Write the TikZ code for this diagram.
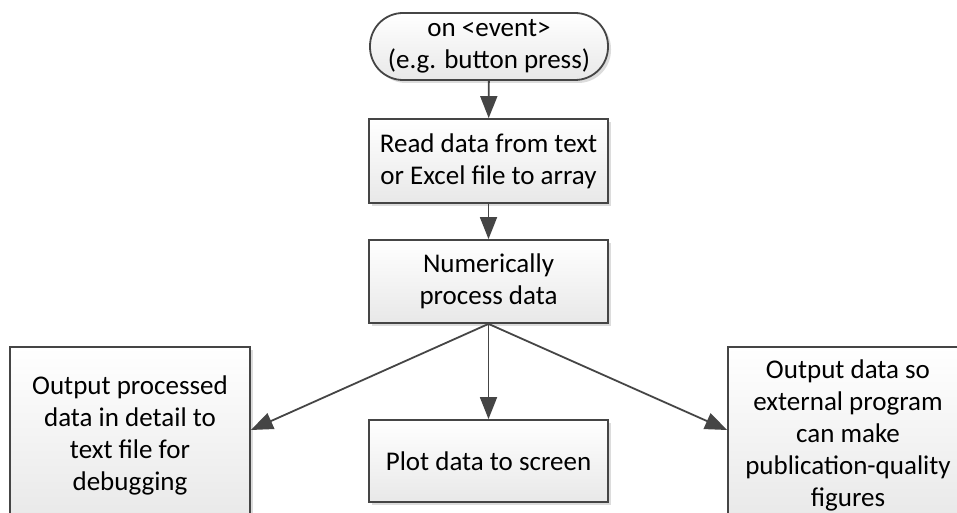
\documentclass[tikz,border=0pt]{standalone}
\usepackage{fontspec}
\setmainfont{Carlito}
\usetikzlibrary{arrows.meta,shadows}
\definecolor{edge}{HTML}{454545}
\definecolor{shade}{HTML}{DCDCDC}
\begin{document}
\begin{tikzpicture}[x=1pt,y=-1pt,
  box/.style={draw=edge, line width=1.8pt, top color=white, bottom color=black!9,
    drop shadow={shadow xshift=3pt, shadow yshift=-3pt, fill=shade, opacity=1},
    font=\fontsize{27}{32}\selectfont, align=center, inner sep=0pt},
  conn/.style={draw=edge, line width=1.8pt, -{Triangle[length=22pt,width=17pt]}}]
\useasboundingbox (0,0) rectangle (957,513);
\clip (0,0) rectangle (957,513);
\node[box, rounded corners=33pt, minimum width=238pt, minimum height=67pt] (term) at (489,46.5) {on <event>\\(e.g. button press)};
\node[box, minimum width=239pt, minimum height=84pt] (read) at (488.5,161) {Read data from text\\or Excel file to array};
\node[box, minimum width=239pt, minimum height=83pt] (proc) at (488.5,281.5) {Numerically\\process data};
\node[box, minimum width=239pt, minimum height=82pt] (plot) at (488.5,461) {Plot data to screen};
\node[box, minimum width=240pt, minimum height=176pt] (left) at (130,435) {Output processed\\data in detail to\\text file for\\debugging};
\node[box, minimum width=240pt, minimum height=176pt] (right) at (848,435) {Output data so\\external program\\can make\\publication-quality\\figures};
\draw[conn] (term) -- (read);
\draw[conn] (read) -- (proc);
\draw[conn] (proc.south) -- (plot.north);
\draw[conn] (proc.south) -- ([yshift=5pt]left.east);
\draw[conn] (proc.south) -- ([yshift=5pt]right.west);
\end{tikzpicture}
\end{document}
